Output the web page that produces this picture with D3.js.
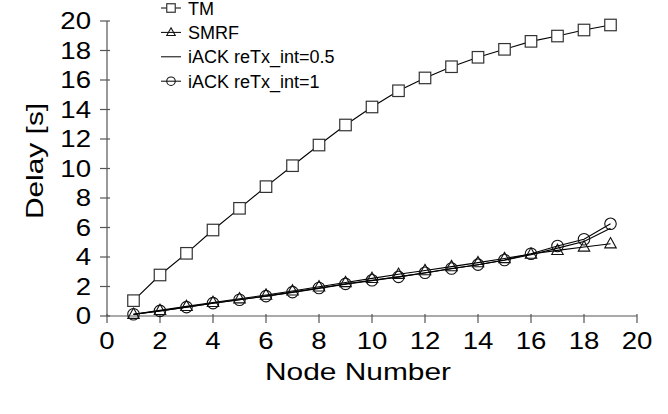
<!DOCTYPE html>
<html>
    <head>
        <script src="https://d3js.org/d3.v7.min.js"></script>
        <style>
            * {
                font-family: 'Liberation Sans', 'Arial', sans-serif;
            }
            body {
                margin: 0;
                background: #fff;
                overflow: hidden;
            }
            svg {
                display: block;
            }
        </style>
    </head>
    <body>
        <script>
            // node numbers on the x axis
            const nodes = d3.range(1, 20);
            const xTicks = d3.range(0, 21, 2);
            const yTicks = d3.range(0, 21, 2);

            // delay in seconds, one value per node
            const tm = [1.04, 2.78, 4.25, 5.83, 7.3, 8.77, 10.19, 11.59, 12.95, 14.17, 15.27, 16.14, 16.9, 17.54, 18.08, 18.62, 18.98, 19.39, 19.73];
            const smrf = [0.12, 0.38, 0.65, 0.92, 1.17, 1.42, 1.7, 1.98, 2.27, 2.55, 2.83, 3.08, 3.35, 3.62, 3.9, 4.2, 4.45, 4.68, 4.9];
            const iack05 = [0.1, 0.34, 0.6, 0.86, 1.1, 1.35, 1.6, 1.87, 2.15, 2.4, 2.65, 2.92, 3.2, 3.47, 3.78, 4.15, 4.6, 5.05, 5.95];
            const iack1 = [0.12, 0.35, 0.6, 0.87, 1.1, 1.35, 1.62, 1.9, 2.18, 2.42, 2.65, 2.93, 3.22, 3.48, 3.8, 4.22, 4.75, 5.2, 6.25];

            const series = [
                { name: 'TM', values: tm, marker: 'square' },
                { name: 'SMRF', values: smrf, marker: 'triangle' },
                { name: 'iACK reTx_int=0.5', values: iack05, marker: null },
                { name: 'iACK reTx_int=1', values: iack1, marker: 'circle' },
            ];

            const width = 668;
            const height = 414;
            const axisColor = '#555';

            const svg = d3.select('body').append('svg').attr('width', width).attr('height', height);

            const x = d3.scaleLinear().domain([0, 20]).range([107, 637]);
            const y = d3.scaleLinear().domain([0, 20]).range([316, 21]);

            // stretched text, gnuplot style
            function label(g, tx, ty, text, size, sx, anchor, rotate) {
                return g
                    .append('text')
                    .attr('transform', `translate(${tx},${ty}) rotate(${rotate || 0}) scale(${sx},1)`)
                    .attr('text-anchor', anchor)
                    .attr('font-size', size)
                    .attr('fill', '#000')
                    .text(text);
            }

            // axes
            const axes = svg.append('g').attr('stroke', axisColor).attr('stroke-width', 1.2);
            axes.append('line').attr('x1', x(0)).attr('x2', x(20)).attr('y1', y(0)).attr('y2', y(0));
            axes.append('line').attr('x1', x(0)).attr('x2', x(0)).attr('y1', y(0)).attr('y2', y(20));
            axes.selectAll('.xt')
                .data(xTicks)
                .enter()
                .append('line')
                .attr('x1', (d) => x(d))
                .attr('x2', (d) => x(d))
                .attr('y1', y(0) - 2)
                .attr('y2', y(0) + 7);
            axes.selectAll('.yt')
                .data(yTicks)
                .enter()
                .append('line')
                .attr('x1', x(0) - 7)
                .attr('x2', x(0) + 3)
                .attr('y1', (d) => y(d))
                .attr('y2', (d) => y(d));

            const labels = svg.append('g');
            xTicks.forEach((t) => label(labels, x(t), 349, t, 23, 1.2, 'middle'));
            yTicks.forEach((t) => label(labels, 91, y(t) + 8, t, 23, 1.2, 'end'));
            label(labels, 358, 380, 'Node Number', 23, 1.3, 'middle');
            label(labels, 43, 161, 'Delay [s]', 23, 1.3, 'middle', -90);

            // series lines and markers
            const line = d3
                .line()
                .x((d, i) => x(nodes[i]))
                .y((d) => y(d));

            const plot = svg.append('g');

            function drawMarker(g, type, cx, cy, s) {
                if (type === 'square') {
                    g.append('rect')
                        .attr('x', cx - s / 2)
                        .attr('y', cy - s / 2)
                        .attr('width', s)
                        .attr('height', s)
                        .attr('fill', '#fff')
                        .attr('stroke', '#333')
                        .attr('stroke-width', 1.2);
                } else if (type === 'triangle') {
                    const h = s * 0.9;
                    g.append('path')
                        .attr('d', `M${cx},${cy - h * 0.6}L${cx + s / 2},${cy + h * 0.4}L${cx - s / 2},${cy + h * 0.4}Z`)
                        .attr('fill', 'none')
                        .attr('stroke', '#111')
                        .attr('stroke-width', 1.1);
                } else if (type === 'circle') {
                    g.append('circle')
                        .attr('cx', cx)
                        .attr('cy', cy)
                        .attr('r', s / 2)
                        .attr('fill', 'none')
                        .attr('stroke', '#111')
                        .attr('stroke-width', 1.1);
                }
            }

            series.forEach((s) => {
                plot.append('path').attr('d', line(s.values)).attr('fill', 'none').attr('stroke', '#000').attr('stroke-width', 1.1);
                if (s.marker) {
                    s.values.forEach((v, i) => drawMarker(plot, s.marker, x(nodes[i]), y(v), 11.5));
                }
            });

            // legend
            const legend = svg.append('g');
            series.forEach((s, i) => {
                const ly = 8 + i * 24.4;
                legend.append('line').attr('x1', 161).attr('x2', 181).attr('y1', ly).attr('y2', ly).attr('stroke', '#000').attr('stroke-width', 1);
                if (s.marker) drawMarker(legend, s.marker, 171, ly, 8.5);
                label(legend, 188, ly + 6.5, s.name, 18, 1, 'start');
            });
        </script>
    </body>
</html>
